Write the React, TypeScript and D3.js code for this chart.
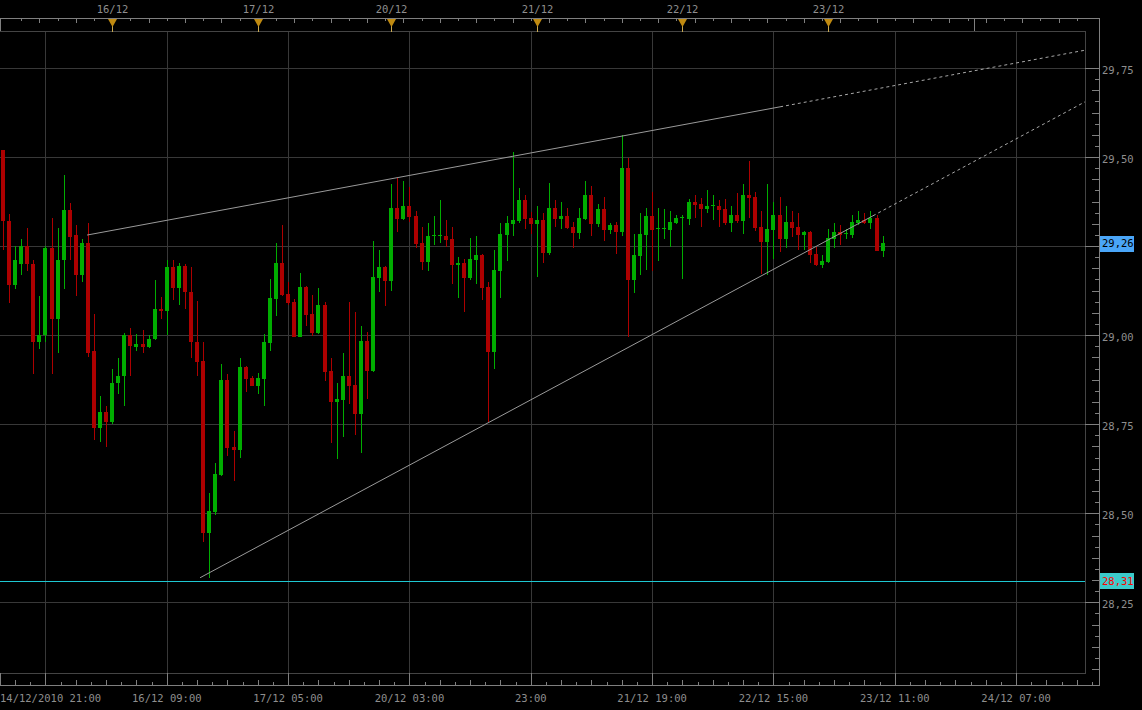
import React from "react";
import * as d3 from "d3";

// ---------- data ----------
const opens = [29.52,29.32,29.14,29.20,29.25,29.20,28.98,29.00,29.245,29.045,29.21,29.35,29.28,29.17,29.26,28.955,28.74,28.785,28.755,28.865,28.885,29.00,28.967,28.975,28.967,28.99,29.073,29.067,29.19,29.133,29.194,29.122,28.981,28.927,28.445,28.504,28.607,28.874,28.685,28.678,28.91,28.879,28.858,28.877,28.978,29.102,29.202,29.115,29.093,28.995,29.135,29.059,29.006,29.084,28.899,28.813,28.818,28.885,28.86,28.779,28.983,28.90,29.161,29.191,29.153,29.357,29.326,29.362,29.334,29.258,29.206,29.279,29.279,29.278,29.27,29.197,29.202,29.161,29.212,29.225,29.135,28.953,29.181,29.282,29.313,29.321,29.379,29.329,29.313,29.323,29.231,29.357,29.327,29.334,29.303,29.287,29.327,29.393,29.313,29.354,29.296,29.309,29.29,29.469,29.155,29.223,29.282,29.334,29.299,29.299,29.296,29.315,29.33,29.327,29.374,29.368,29.355,29.363,29.362,29.354,29.315,29.337,29.32,29.393,29.388,29.303,29.262,29.296,29.337,29.271,29.317,29.303,29.282,29.289,29.228,29.197,29.206,29.271,29.289,29.284,29.282,29.315,29.323,29.315,29.329,29.237];
const highs = [29.52,29.34,29.25,29.27,29.30,29.21,29.11,29.25,29.33,29.30,29.45,29.37,29.31,29.27,29.315,29.06,28.83,28.80,28.905,28.935,29.005,29.02,29.003,29.015,29.00,29.155,29.107,29.21,29.21,29.203,29.20,29.19,29.095,28.98,28.556,28.64,28.92,28.89,28.73,28.935,28.913,28.885,28.894,29.003,29.157,29.258,29.309,29.149,29.101,29.174,29.138,29.112,29.132,29.093,28.935,28.865,28.949,29.093,29.065,29.025,29.008,29.264,29.239,29.194,29.424,29.441,29.433,29.416,29.348,29.303,29.315,29.334,29.379,29.323,29.303,29.219,29.214,29.272,29.278,29.228,29.149,29.239,29.315,29.334,29.514,29.413,29.393,29.346,29.362,29.343,29.427,29.379,29.374,29.357,29.317,29.357,29.433,29.419,29.368,29.388,29.315,29.317,29.562,29.497,29.284,29.343,29.357,29.402,29.357,29.354,29.348,29.337,29.337,29.382,29.393,29.385,29.407,29.393,29.379,29.382,29.362,29.399,29.424,29.489,29.403,29.348,29.424,29.374,29.388,29.362,29.348,29.342,29.293,29.293,29.248,29.225,29.298,29.315,29.309,29.298,29.337,29.348,29.343,29.348,29.337,29.278];
const lows = [29.24,29.09,29.13,29.17,29.18,28.89,28.96,28.98,28.89,28.95,29.13,29.21,29.11,29.15,28.94,28.705,28.70,28.685,28.75,28.835,28.80,28.885,28.956,28.95,28.964,28.985,29.045,29.00,29.10,29.085,29.074,28.936,28.886,28.42,28.318,28.496,28.604,28.66,28.59,28.655,28.84,28.857,28.834,28.80,28.956,29.054,29.11,29.085,28.995,28.995,29.026,28.998,29.004,28.872,28.697,28.653,28.714,28.807,28.72,28.669,28.821,28.897,29.122,29.082,29.124,29.29,29.323,29.318,29.245,29.183,29.181,29.254,29.259,29.248,29.144,29.105,29.065,29.155,29.144,29.099,28.755,28.905,29.105,29.209,29.279,29.315,29.299,29.285,29.164,29.203,29.226,29.304,29.299,29.299,29.245,29.271,29.324,29.279,29.304,29.265,29.285,29.228,29.279,28.995,29.119,29.169,29.183,29.181,29.209,29.271,29.248,29.313,29.158,29.31,29.329,29.304,29.344,29.324,29.304,29.31,29.29,29.315,29.284,29.329,29.292,29.173,29.169,29.213,29.234,29.245,29.276,29.24,29.24,29.203,29.195,29.189,29.203,29.245,29.254,29.271,29.273,29.31,29.313,29.298,29.237,29.22];
const closes = [29.32,29.14,29.21,29.25,29.20,28.98,29.00,29.245,29.045,29.21,29.35,29.275,29.17,29.26,28.95,28.74,28.785,28.755,28.865,28.885,29.00,28.97,28.975,28.967,28.99,29.073,29.067,29.19,29.133,29.194,29.122,28.981,28.925,28.445,28.506,28.61,28.874,28.683,28.678,28.91,28.877,28.858,28.879,28.98,29.104,29.202,29.113,29.091,28.995,29.135,29.057,29.006,29.084,28.897,28.813,28.82,28.885,28.858,28.779,28.983,28.90,29.163,29.191,29.153,29.357,29.327,29.362,29.332,29.256,29.206,29.278,29.281,29.281,29.268,29.197,29.202,29.161,29.213,29.225,29.133,28.953,29.183,29.284,29.315,29.323,29.379,29.327,29.313,29.323,29.231,29.357,29.327,29.334,29.301,29.287,29.329,29.393,29.313,29.354,29.296,29.309,29.29,29.469,29.155,29.225,29.284,29.334,29.296,29.301,29.301,29.317,29.329,29.332,29.374,29.366,29.355,29.362,29.365,29.352,29.315,29.337,29.321,29.393,29.386,29.301,29.262,29.298,29.337,29.271,29.317,29.301,29.282,29.289,29.226,29.197,29.208,29.272,29.289,29.282,29.286,29.317,29.323,29.315,29.329,29.237,29.258];

const priceTicks = [28.25, 28.5, 28.75, 29.0, 29.25, 29.5, 29.75];
const gridIndices = [7, 27, 47, 67, 87, 107, 127, 147, 167];
const bottomLabels = ["14/12/2010 21:00", "16/12 09:00", "17/12 05:00", "20/12 03:00", "23:00", "21/12 19:00", "22/12 15:00", "23/12 11:00", "24/12 07:00"];
const dayIndices = [18, 42, 64, 88, 112, 136];
const dayLabels = ["16/12", "17/12", "20/12", "21/12", "22/12", "23/12"];
const dayTickNoMarker = [160];

// trend lines: [barIndex, price] — start, end of solid part, end of dashed projection
const upperTrend = [[13.85, 29.281], [128.1, 29.641], [178.36, 29.8]];
const lowerTrend = [[32.48, 28.319], [143.4, 29.335], [178.36, 29.655]];
const supportLevel = 28.31;
const lastPrice = 29.26;

// ---------- layout ----------
const W = 1142, H = 710;
const PL = 0, PR = 1085, PT = 31, PB = 673;
const AX_TOP = 18, AX_BOTTOM = 685, AX_RIGHT = 1099;

const RED = "#ad0000";
const GREEN = "#00ad00";
const GRID = "#383838";
const BORDER = "#444444";
const AXIS = "#7f7f7f";
const TEXT = "#8e8e8e";
const CYAN = "#1ec8d2";
const FONT = "'DejaVu Sans Mono', monospace";

const fmt = (v: number) => d3.format(".2f")(v).replace(".", ",");

export default function App() {
  const x = d3.scaleLinear().domain([-0.5, 178.36]).range([PL, PR]);
  const y = d3.scaleLinear().domain([28.25, 29.75]).range([602.3, 68]);

  const candles = opens.map((o, i) => ({ i, o, h: highs[i], l: lows[i], c: closes[i] }));

  // right axis minor ticks
  const minorY: { v: number; k: number }[] = [];
  for (let k = 0; ; k++) {
    const v = 28.0 + k * 0.03125;
    if (v > 29.75 + 1e-9) break;
    const yy = y(v);
    if (yy <= PB && yy >= PT) minorY.push({ v, k });
  }

  // bottom axis ticks every 2.5 bars
  const bottomTicks: { xx: number; k: number }[] = [];
  for (let k = -2; ; k++) {
    const xx = x(7 + 2.5 * k);
    if (xx >= AX_RIGHT) break;
    if (xx < 0) continue;
    bottomTicks.push({ xx, k });
  }

  // top axis ticks every 3 bars
  const topTicks: { xx: number; i: number }[] = [];
  for (let i = 3; ; i += 3) {
    const xx = x(i);
    if (xx >= PR) break;
    topTicks.push({ xx, i });
  }

  const line = d3.line<number[]>().x((d) => x(d[0])).y((d) => y(d[1]));
  const px = (v: number) => Math.round(v) + 0.5;

  // price labels hidden behind the current-price box are not drawn
  const lastY = y(lastPrice);
  const visibleLabels = priceTicks.filter((v) => Math.abs(y(v) - lastY) > 12);

  return (
    <svg width={W} height={H} style={{ position: "fixed", left: 0, top: 0, display: "block", background: "#000" }}>
      <rect x={0} y={0} width={W} height={H} fill="#000" />

      {/* grid */}
      <g shapeRendering="crispEdges">
        {priceTicks.map((v) => (
          <line key={"hg" + v} x1={PL} x2={PR} y1={px(y(v))} y2={px(y(v))} stroke={GRID} />
        ))}
        {gridIndices.map((gi) => (
          <line key={"vg" + gi} x1={px(x(gi))} x2={px(x(gi))} y1={PT} y2={PB} stroke={GRID} />
        ))}
      </g>

      {/* support line */}
      <line x1={PL} x2={PR} y1={px(y(supportLevel))} y2={px(y(supportLevel))} stroke={CYAN} strokeWidth={1} shapeRendering="crispEdges" />

      {/* candles */}
      <g shapeRendering="crispEdges">
        {candles.map((d) => {
          const cx = Math.round(x(d.i));
          const up = d.c >= d.o;
          const col = up ? GREEN : RED;
          const bt = Math.round(y(Math.max(d.o, d.c)));
          const bb = Math.round(y(Math.min(d.o, d.c)));
          const wt = Math.round(y(d.h));
          const wb = Math.round(y(d.l));
          return (
            <g key={d.i}>
              <rect x={cx} y={wt} width={1} height={Math.max(1, wb - wt)} fill={col} />
              <rect x={cx - 2} y={bt} width={4} height={Math.max(1, bb - bt)} fill={col} />
            </g>
          );
        })}
      </g>

      {/* trend lines */}
      <g fill="none">
        <path d={line([upperTrend[0], upperTrend[1]]) || ""} stroke="#9a9a9a" strokeWidth={1} />
        <path d={line([upperTrend[1], upperTrend[2]]) || ""} stroke="#a8a8a8" strokeWidth={1} strokeDasharray="3,3" />
        <path d={line([lowerTrend[0], lowerTrend[1]]) || ""} stroke="#9a9a9a" strokeWidth={1} />
        <path d={line([lowerTrend[1], lowerTrend[2]]) || ""} stroke="#a8a8a8" strokeWidth={1} strokeDasharray="3,3" />
      </g>

      {/* frame */}
      <g shapeRendering="crispEdges">
        <line x1={PL} x2={PR} y1={PT + 0.5} y2={PT + 0.5} stroke={BORDER} />
        <line x1={PL} x2={PR} y1={PB + 0.5} y2={PB + 0.5} stroke={BORDER} />
        <line x1={PR + 0.5} x2={PR + 0.5} y1={PT} y2={PB + 1} stroke={BORDER} />
        <line x1={0} x2={AX_RIGHT + 1} y1={AX_TOP + 0.5} y2={AX_TOP + 0.5} stroke={AXIS} />
        <line x1={0} x2={AX_RIGHT + 1} y1={AX_BOTTOM + 0.5} y2={AX_BOTTOM + 0.5} stroke={AXIS} />
        <line x1={AX_RIGHT + 0.5} x2={AX_RIGHT + 0.5} y1={AX_TOP} y2={AX_BOTTOM + 1} stroke={AXIS} />
        <line x1={0.5} x2={0.5} y1={AX_TOP} y2={PT} stroke={AXIS} />
        <line x1={0.5} x2={0.5} y1={PB} y2={AX_BOTTOM} stroke={AXIS} />
      </g>

      {/* right axis ticks */}
      <g shapeRendering="crispEdges">
        {minorY.map(({ v, k }) => {
          const major = k % 8 === 0;
          const len = major ? AX_RIGHT - PR : k % 2 === 0 ? 7 : 4;
          return <line key={"ry" + k} x1={AX_RIGHT - len} x2={AX_RIGHT} y1={px(y(v))} y2={px(y(v))} stroke={AXIS} />;
        })}
      </g>
      <g fontFamily={FONT} fontSize={10.5} fill={TEXT}>
        {visibleLabels.map((v) => (
          <text key={"rl" + v} x={AX_RIGHT + 3} y={y(v) + 6}>{fmt(v)}</text>
        ))}
      </g>

      {/* bottom axis ticks */}
      <g shapeRendering="crispEdges">
        {bottomTicks.map(({ xx, k }) => {
          const rel = ((k % 8) + 8) % 8;
          const top = rel === 0 ? PB : rel % 2 === 0 ? AX_BOTTOM - 5 : AX_BOTTOM - 3;
          return <line key={"bt" + k} x1={px(xx)} x2={px(xx)} y1={top} y2={AX_BOTTOM} stroke={AXIS} />;
        })}
      </g>
      <g fontFamily={FONT} fontSize={10.5} fill={TEXT}>
        {gridIndices.map((gi, j) => {
          const first = j === 0;
          return (
            <text key={"bl" + gi} x={first ? 0 : x(gi)} y={702} textAnchor={first ? "start" : "middle"}>
              {bottomLabels[j]}
            </text>
          );
        })}
      </g>

      {/* top axis ticks */}
      <g shapeRendering="crispEdges">
        {topTicks.map(({ xx, i }) => (
          <line key={"tt" + i} x1={px(xx)} x2={px(xx)} y1={AX_TOP} y2={AX_TOP + (i % 6 === 0 ? 5 : 3)} stroke={AXIS} />
        ))}
        {dayTickNoMarker.map((di) => (
          <line key={"dt" + di} x1={px(x(di))} x2={px(x(di))} y1={AX_TOP} y2={PT} stroke={AXIS} />
        ))}
      </g>
      {dayIndices.map((di, j) => {
        const cx = Math.round(x(di)) + 0.5;
        return (
          <g key={"day" + di}>
            <line x1={cx} x2={cx} y1={AX_TOP + 1} y2={PT + 1} stroke="#c8a850" shapeRendering="crispEdges" />
            <path d={`M${cx - 4.5},${AX_TOP + 1}L${cx + 4.5},${AX_TOP + 1}L${cx},${AX_TOP + 9}Z`} fill="#c08a10" />
            <text x={cx} y={13} textAnchor="middle" fontFamily={FONT} fontSize={10.5} fill={TEXT}>{dayLabels[j]}</text>
          </g>
        );
      })}

      {/* price boxes */}
      <g>
        <rect x={AX_RIGHT + 1} y={Math.round(lastY) - 7} width={34} height={16} fill="#4aa6f8" />
        <text x={AX_RIGHT + 3} y={lastY + 4} fontFamily={FONT} fontSize={10.5} fill="#000">{fmt(lastPrice)}</text>
        <rect x={AX_RIGHT + 1} y={Math.round(y(supportLevel)) - 8} width={34} height={16} fill="#3ccaca" />
        <text x={AX_RIGHT + 3} y={y(supportLevel) + 4} fontFamily={FONT} fontSize={10.5} fill="#ff0000">{fmt(supportLevel)}</text>
      </g>
    </svg>
  );
}
